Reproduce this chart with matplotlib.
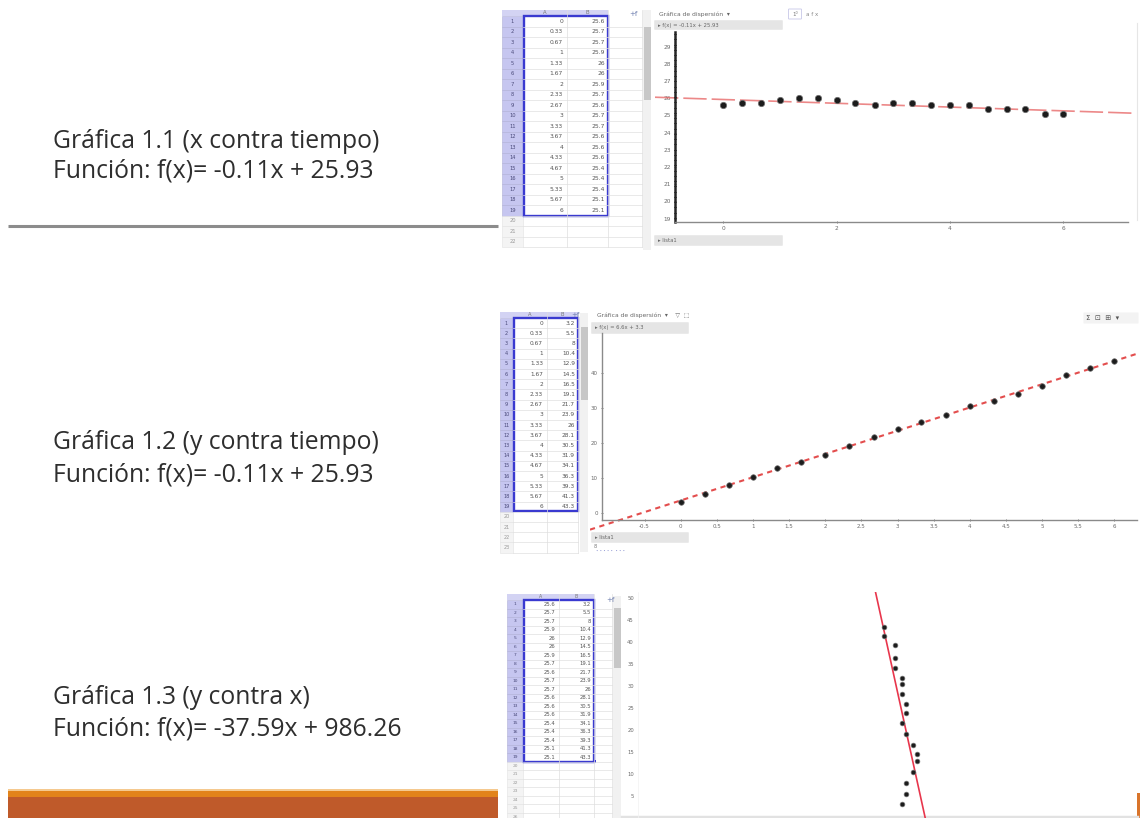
import matplotlib
matplotlib.use("Agg")
import matplotlib.pyplot as plt
import numpy as np
from matplotlib.patches import Rectangle, FancyBboxPatch

W, H = 1140, 818

# ---------------- data ----------------
tiempo = [0, 0.33, 0.67, 1, 1.33, 1.67, 2, 2.33, 2.67, 3, 3.33, 3.67, 4, 4.33, 4.67, 5, 5.33, 5.67, 6]
pos_x = [25.6, 25.7, 25.7, 25.9, 26.0, 26.0, 25.9, 25.7, 25.6, 25.7, 25.7, 25.6, 25.6, 25.6,
         25.4, 25.4, 25.4, 25.1, 25.1]
pos_y = [3.2, 5.5, 8.0, 10.4, 12.9, 14.5, 16.5, 19.1, 21.7, 23.9, 26.0, 28.1, 30.5, 31.9,
         34.1, 36.3, 39.3, 41.3, 43.3]
fit_x_t = (-0.11, 25.93)      # f(x) = -0.11x + 25.93
fit_y_x = (-37.59, 986.26)    # f(x) = -37.59x + 986.26

titulos = ["Gráfica 1.1 (x contra tiempo)", "Gráfica 1.2 (y contra tiempo)", "Gráfica 1.3 (y contra x)"]
funciones = ["Función: f(x)= -0.11x + 25.93", "Función: f(x)= -0.11x + 25.93",
             "Función: f(x)= -37.59x + 986.26"]

ticks1_x = [0, 2, 4, 6]
ticks1_y = [19, 20, 21, 22, 23, 24, 25, 26, 27, 28, 29]
ticks2_x = [-0.5, 0, 0.5, 1, 1.5, 2, 2.5, 3, 3.5, 4, 4.5, 5, 5.5, 6]
ticks2_y = [0, 10, 20, 30, 40]
ticks3_y = [5, 10, 15, 20, 25, 30, 35, 40, 45, 50]

# ---------------- figure ----------------
fig = plt.figure(figsize=(11.4, 8.18), dpi=100)
fig.patch.set_facecolor("white")
bg = fig.add_axes([0, 0, 1, 1])
bg.set_xlim(0, W)
bg.set_ylim(H, 0)
bg.axis("off")


def add_axes_px(x0, y0, x1, y1):
    ax = fig.add_axes([x0 / W, 1 - y1 / H, (x1 - x0) / W, (y1 - y0) / H])
    ax.set_facecolor("none")
    return ax


TXT = "#2e2e2e"
FONT = "Open Sans"

# ---------------- left texts ----------------
text_pos = [(148.5, 178.0), (449.0, 481.0), (704.0, 735.0)]
texts = []
for (b1, b2), t, f in zip(text_pos, titulos, funciones):
    texts.append(bg.text(53, b1, t, fontsize=16, family=FONT, color=TXT, va="baseline", ha="left"))
    texts.append(bg.text(53, b2, f, fontsize=16, family=FONT, color=TXT, va="baseline", ha="left"))
# fit the font size so the first title spans ~327 px like the slide
fig.canvas.draw()
rend = fig.canvas.get_renderer()
wpx = texts[0].get_window_extent(rend).width
fs_fit = 16 * 327.0 / wpx
for t in texts:
    t.set_fontsize(fs_fit)

# separator under chart 1
bg.plot([8, 498], [226, 226], color="#8c8c8c", lw=2.2, solid_capstyle="butt")

# bottom orange band
bg.add_patch(Rectangle((8, 790), 490, 7, color="#e2831a", lw=0))
bg.add_patch(Rectangle((8, 797), 490, 21, color="#bf5a2a", lw=0))
bg.add_patch(Rectangle((8, 789), 490, 1.5, color="#f5c98f", lw=0))
bg.add_patch(Rectangle((1137, 793), 3, 25, color="#d9742a", lw=0))


# ---------------- spreadsheet tables ----------------
def fmt(v):
    return f"{v:g}"


def draw_table(hx0, hx1, colA, colB, colC, hdr_top, row_top, row_h, n_rows, colA_vals, colB_vals,
               border_bottom, fs):
    bg.add_patch(Rectangle((hx0, hdr_top), colB[1] - hx0, row_top - hdr_top, color="#d3d3f3", lw=0))
    bg.text((colA[0] + colA[1]) / 2, (hdr_top + row_top) / 2, "A", fontsize=fs - 0.5, color="#777",
            ha="center", va="center")
    bg.text((colB[0] + colB[1]) / 2, (hdr_top + row_top) / 2, "B", fontsize=fs - 0.5, color="#777",
            ha="center", va="center")
    n_data = len(colA_vals)
    right = colC if colC else colB[1]
    for i in range(n_rows):
        y0 = row_top + i * row_h
        yc = y0 + row_h / 2
        sel = i < n_data
        bg.add_patch(Rectangle((hx0, y0), hx1 - hx0, row_h,
                               facecolor="#c6c6f0" if sel else "#f4f4f4",
                               edgecolor="#b0b0d8" if sel else "#e2e2e2", lw=0.4))
        bg.text((hx0 + hx1) / 2, yc, str(i + 1), fontsize=fs - 0.6, color="#4a4a7a" if sel else "#999",
                ha="center", va="center")
        bg.plot([hx1, right], [y0 + row_h, y0 + row_h], color="#e0e0e0", lw=0.5)
        if sel:
            bg.text(colA[1] - 4, yc, fmt(colA_vals[i]), fontsize=fs, color="#555",
                    ha="right", va="center")
            bg.text(colB[1] - 3, yc, fmt(colB_vals[i]), fontsize=fs, color="#555",
                    ha="right", va="center")
    bottom = row_top + n_rows * row_h
    for xv in (colA[1], colB[1]) + ((colC,) if colC else ()):
        bg.plot([xv, xv], [hdr_top, bottom], color="#dedede", lw=0.5)
    bg.add_patch(Rectangle((colA[0] + 1, row_top - 0.5), colB[1] - colA[0] - 1, border_bottom - row_top + 0.5,
                           fill=False, edgecolor="#3a3ad0", lw=1.7))


draw_table(502, 523, (523, 567), (567, 608), 642, 10, 16, 10.5, 22, tiempo, pos_x, 216, 4.3)
draw_table(500, 513, (513, 547), (547, 578), None, 312, 318, 10.2, 23, tiempo, pos_y, 511, 4.2)
draw_table(507, 523, (523, 559), (559, 594), 612, 594, 600, 8.5, 26, pos_x, pos_y, 761.5, 3.8)
bg.add_patch(Rectangle((592.5, 759.5), 3, 3, color="#3a3ad0", lw=0))

# scrollbars
for (x0, x1, ty0, ty1, th0, th1) in [(643, 651, 10, 250, 27, 100),
                                     (580, 588, 313, 552, 327, 400),
                                     (613, 621, 596, 818, 608, 668)]:
    bg.add_patch(Rectangle((x0, ty0), x1 - x0, ty1 - ty0, color="#f1f1f1", lw=0))
    bg.add_patch(Rectangle((x0 + 0.5, th0), x1 - x0 - 1, th1 - th0, color="#c7c7c7", lw=0))

# small "+f" icons
for (x, y) in [(633, 14), (575, 315), (610, 600)]:
    bg.text(x, y, "+f", fontsize=5, color="#7080b0", ha="center", va="center")

# GeoGebra toolbars / labels
bg.text(659, 14, "Gráfica de dispersión  ▾", fontsize=4.3, color="#666", va="center")
bg.add_patch(FancyBboxPatch((789, 9.5), 12, 9, boxstyle="round,pad=0.5", facecolor="white",
                            edgecolor="#c8c8e8", lw=0.6))
bg.text(795, 14, "1⁰", fontsize=4, color="#777", ha="center", va="center")
bg.text(806, 14, "a f x", fontsize=4, color="#888", va="center")
bg.text(597, 315, "Gráfica de dispersión  ▾    ▽  ⬚", fontsize=4.3, color="#666", va="center")
bg.add_patch(FancyBboxPatch((1084, 313), 54, 10, boxstyle="round,pad=0.5", facecolor="#f3f3f3",
                            edgecolor="none"))
bg.text(1086, 318, "Σ  ⊡  ⊞  ▾", fontsize=5, color="#555", va="center")

for (x0, y0, x1, y1, s) in [(655, 21, 782, 29, "▸ f(x) = -0.11x + 25.93"),
                            (655, 236, 782, 245, "▸ lista1"),
                            (592, 323, 688, 333, "▸ f(x) = 6.6x + 3.3"),
                            (592, 533, 688, 542, "▸ lista1")]:
    bg.add_patch(FancyBboxPatch((x0, y0), x1 - x0, y1 - y0, boxstyle="round,pad=0.8",
                                facecolor="#e5e5e5", edgecolor="none"))
    bg.text(x0 + 3, (y0 + y1) / 2, s, fontsize=3.8, color="#666", va="center")
bg.text(594, 547, "8", fontsize=3.5, color="#777", va="center")
bg.text(596, 551, "• • • • •  • • •", fontsize=3, color="#8890d0", va="center")
bg.plot([1137, 1137], [23, 220], color="#e6e6e6", lw=0.8)
bg.plot([622, 1137], [816.5, 816.5], color="#e2e2e2", lw=2.5)

MARK = dict(ls="none", marker="o", color="#1c1c1c", mec="#707070", mew=0.5)
TICKC = "#6a6a6a"

# ---------------- graph 1: x vs tiempo ----------------
ax1 = add_axes_px(655, 8, 1133, 250)
ax1.set_xlim(-1.205, 7.23)
ax1.set_ylim(17.18, 31.25)
for s in ("top", "right"):
    ax1.spines[s].set_visible(False)
ax1.spines["left"].set_position(("data", -0.85))
ax1.spines["left"].set_bounds(18.81, 29.86)
ax1.spines["left"].set_linestyle((0, (1.2, 0.9)))
ax1.spines["left"].set_linewidth(1.8)
ax1.spines["left"].set_color("#262626")
ax1.spines["bottom"].set_position(("data", 18.81))
ax1.spines["bottom"].set_bounds(-0.85, 7.15)
ax1.spines["bottom"].set_color("#8a8a8a")
ax1.spines["bottom"].set_linewidth(1.0)
ax1.set_xticks(ticks1_x)
ax1.set_xticklabels([fmt(v) for v in ticks1_x])
ax1.set_yticks(ticks1_y)
ax1.set_yticklabels([fmt(v) for v in ticks1_y])
ax1.tick_params(axis="both", length=2, width=0.6, colors=TICKC, labelsize=4.2, pad=2, direction="inout")
tt1 = np.array(ax1.get_xlim())
ax1.plot(tt1, fit_x_t[0] * tt1 + fit_x_t[1], color="#e86a6a", lw=1.2, ls=(0, (14, 3)), alpha=0.8)
ax1.plot(tiempo, pos_x, ms=4.6, **MARK)

# ---------------- graph 2: y vs tiempo ----------------
ax2 = add_axes_px(590, 310, 1137, 555)
ax2.set_xlim(-1.255, 6.314)
ax2.set_ylim(-12.0, 58.0)
for s in ("top", "right"):
    ax2.spines[s].set_visible(False)
ax2.spines["left"].set_position(("data", -1.09))
ax2.spines["left"].set_bounds(-2.0, 51.4)
ax2.spines["bottom"].set_position(("data", -2.0))
ax2.spines["bottom"].set_bounds(-1.09, 6.31)
for s in ("left", "bottom"):
    ax2.spines[s].set_color("#8a8a8a")
    ax2.spines[s].set_linewidth(1.0)
ax2.set_xticks(ticks2_x)
ax2.set_xticklabels([fmt(v) for v in ticks2_x])
ax2.set_yticks(ticks2_y)
ax2.set_yticklabels([fmt(v) for v in ticks2_y])
ax2.tick_params(axis="both", length=2, width=0.6, colors=TICKC, labelsize=4.0, pad=2, direction="inout")
m2, b2 = np.polyfit(tiempo, pos_y, 1)
tt2 = np.array(ax2.get_xlim())
ax2.plot(tt2, m2 * tt2 + b2, color="#e03a3a", lw=1.5, ls=(0, (2.5, 2.2)), alpha=0.9)
ax2.plot(tiempo, pos_y, ms=4.0, **MARK)

# ---------------- graph 3: y vs x ----------------
ax3 = add_axes_px(622, 592, 1137, 818)
ax3.set_xlim(17.907, 32.055)
ax3.set_ylim(0, 51.36)
for s in ("top", "right", "bottom"):
    ax3.spines[s].set_visible(False)
ax3.spines["left"].set_position(("data", 18.35))
ax3.spines["left"].set_color("#f2f2f2")
ax3.spines["left"].set_linewidth(0.5)
ax3.set_xticks([])
ax3.set_yticks(ticks3_y)
ax3.set_yticklabels([fmt(v) for v in ticks3_y])
ax3.tick_params(axis="y", length=0, colors=TICKC, labelsize=3.8, pad=3)
xx3 = np.array(ax3.get_xlim())
ax3.plot(xx3, fit_y_x[0] * xx3 + fit_y_x[1], color="#e8364c", lw=1.2)
ax3.plot(pos_x, pos_y, ms=3.4, **MARK)

fig.savefig("out.png", dpi=100, facecolor="white")
